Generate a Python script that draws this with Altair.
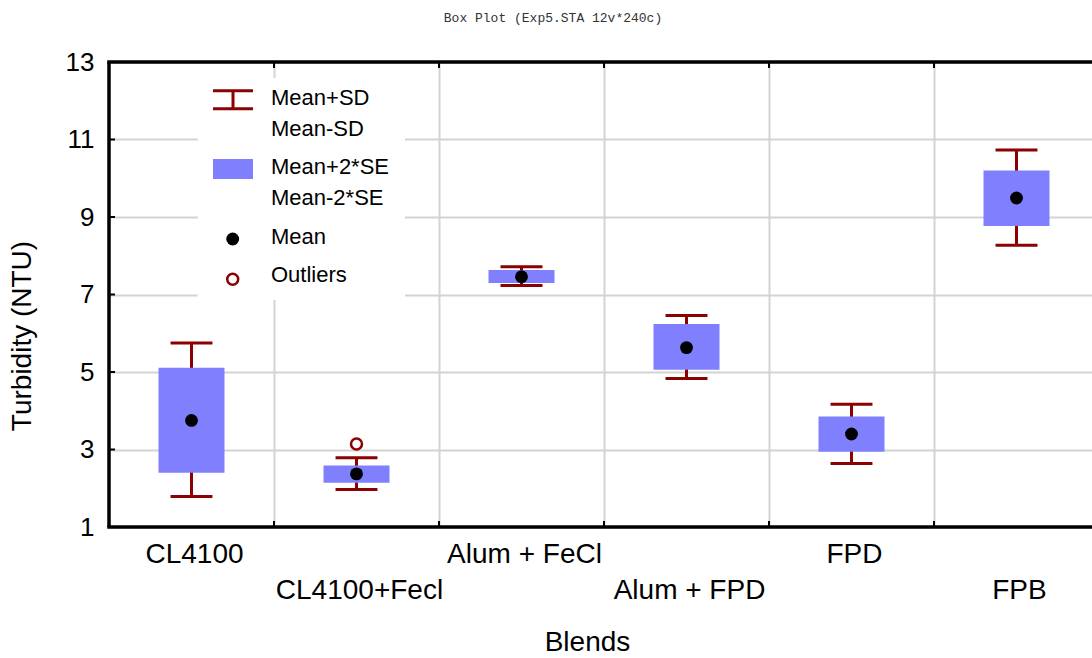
import altair as alt
import pandas as pd

# Turbidity by blend: mean, mean ± SD (whiskers), mean ± 2*SE (boxes)
blends = ["CL4100", "CL4100+Fecl", "Alum + FeCl", "Alum + FPD", "FPD", "FPB"]
mean = [3.75, 2.37, 7.46, 5.63, 3.40, 9.49]
sd_hi = [5.75, 2.79, 7.715, 6.46, 4.17, 10.73]
sd_lo = [1.785, 1.97, 7.23, 4.83, 2.64, 8.27]
se_hi = [5.11, 2.59, 7.63, 6.24, 3.85, 10.20]
se_lo = [2.40, 2.14, 7.30, 5.055, 2.94, 8.77]

outlier_blend = ["CL4100+Fecl"]
outlier_value = [3.14]

y_ticks = [1, 3, 5, 7, 9, 11, 13]
x_bounds = [1, 2, 3, 4, 5]

W, H = 983, 465
RED = "#8B0000"
BLUE = "#8080FF"
GRID = "#D3D3D3"
FONT = "Liberation Sans"

df = pd.DataFrame({
    "blend": blends, "mean": mean,
    "sd_hi": sd_hi, "sd_lo": sd_lo, "se_hi": se_hi, "se_lo": se_lo,
})
df["pos"] = [i + 0.5 for i in range(len(blends))]
df["row"] = [i % 2 for i in range(len(blends))]

out_df = pd.DataFrame({
    "pos": [blends.index(b) + 0.5 for b in outlier_blend],
    "value": outlier_value,
})

xscale = alt.Scale(domain=[0, W / 165.0], nice=False, zero=False)
yscale = alt.Scale(domain=[1, 13], nice=False, zero=False)
xaxis = alt.Axis(values=x_bounds, grid=True, gridColor=GRID, gridWidth=2,
                 labels=False, ticks=False, domain=False, title=None)
yaxis = alt.Axis(values=y_ticks, grid=True, gridColor=GRID, gridWidth=2,
                 domain=False, ticks=False, title=None, labelFont=FONT,
                 labelFontSize=26, labelColor="black", labelPadding=15)


def X(field):
    return alt.X(field, type="quantitative", scale=xscale, axis=xaxis)


def Y(field):
    return alt.Y(field, type="quantitative", scale=yscale, axis=yaxis)


one = alt.Data(values=[{"k": 0}])
base = alt.Chart(df)

stems = base.mark_rule(color=RED, strokeWidth=3).encode(
    x=X("pos"), y=Y("sd_lo"), y2="sd_hi")

boxes = base.transform_calculate(
    bl="datum.pos - 0.2", br="datum.pos + 0.2"
).mark_rect(color=BLUE, opacity=1).encode(
    x=X("bl:Q"), x2="br:Q", y=Y("se_lo"), y2="se_hi")

caps = base.transform_fold(["sd_hi", "sd_lo"], as_=["k", "v"]).transform_calculate(
    cl="datum.pos - 0.127", cr="datum.pos + 0.127"
).mark_rule(color=RED, strokeWidth=3).encode(
    x=X("cl:Q"), x2="cr:Q", y=Y("v:Q"))

means = base.mark_circle(color="black", size=165, opacity=1).encode(
    x=X("pos"), y=Y("mean"))

outliers = alt.Chart(out_df).mark_point(
    filled=False, color=RED, strokeWidth=2.5, size=120, opacity=1
).encode(x=X("pos"), y=Y("value"))

# frame: left, top and bottom edges with inward ticks
frame_left = alt.Chart(one).mark_rule(color="black", strokeWidth=3.5).encode(
    x=alt.value(0), y=alt.value(0), y2=alt.value(H))
frame_top = alt.Chart(one).mark_rule(color="black", strokeWidth=3.5).encode(
    x=alt.value(-1.75), x2=alt.value(W), y=alt.value(0))
frame_bottom = alt.Chart(one).mark_rule(color="black", strokeWidth=3.5).encode(
    x=alt.value(-1.75), x2=alt.value(W), y=alt.value(H))

ytick_df = pd.DataFrame({"v": y_ticks})
xtick_df = pd.DataFrame({"b": x_bounds})
left_ticks = alt.Chart(ytick_df).mark_rule(color="black", strokeWidth=2).encode(
    y=Y("v:Q"), x=alt.value(0), x2=alt.value(6))
bottom_ticks = alt.Chart(xtick_df).mark_rule(color="black", strokeWidth=2).encode(
    x=X("b:Q"), y=alt.value(H - 6), y2=alt.value(H))
top_ticks = alt.Chart(xtick_df).mark_rule(color="black", strokeWidth=2).encode(
    x=X("b:Q"), y=alt.value(0), y2=alt.value(6))

# category labels, staggered over two rows
label_top = base.transform_filter("datum.row == 0").mark_text(
    font=FONT, fontSize=28, color="black", baseline="middle", dx=3
).encode(x=X("pos"), y=alt.value(493), text="blend:N")
label_bottom = base.transform_filter("datum.row == 1").mark_text(
    font=FONT, fontSize=28, color="black", baseline="middle", dx=3
).encode(x=X("pos"), y=alt.value(529), text="blend:N")

x_title = alt.Chart(one).mark_text(
    font=FONT, fontSize=28, color="black", baseline="middle"
).encode(x=alt.value(478.5), y=alt.value(581), text=alt.value("Blends"))
y_title = alt.Chart(one).mark_text(
    font=FONT, fontSize=28, color="black", baseline="middle", angle=270
).encode(x=alt.value(-86), y=alt.value(274), text=alt.value("Turbidity (NTU)"))
top_title = alt.Chart(one).mark_text(
    font="Liberation Mono", fontSize=13, color="#333333", baseline="middle"
).encode(x=alt.value(444), y=alt.value(-44.5),
         text=alt.value("Box Plot (Exp5.STA 12v*240c)"))

# legend panel
leg_bg = alt.Chart(one).mark_rect(color="white", opacity=1).encode(
    x=alt.value(88.7), x2=alt.value(296), y=alt.value(16), y2=alt.value(238))
leg_cap1 = alt.Chart(one).mark_rule(color=RED, strokeWidth=3).encode(
    x=alt.value(104), x2=alt.value(144), y=alt.value(28.7))
leg_cap2 = alt.Chart(one).mark_rule(color=RED, strokeWidth=3).encode(
    x=alt.value(104), x2=alt.value(144), y=alt.value(46.7))
leg_stem = alt.Chart(one).mark_rule(color=RED, strokeWidth=3).encode(
    x=alt.value(124), y=alt.value(28.7), y2=alt.value(46.7))
leg_box = alt.Chart(one).mark_rect(color=BLUE, opacity=1).encode(
    x=alt.value(104), x2=alt.value(144), y=alt.value(97), y2=alt.value(117))
leg_mean = alt.Chart(one).mark_circle(color="black", size=165, opacity=1).encode(
    x=alt.value(123.7), y=alt.value(177))
leg_out = alt.Chart(one).mark_point(
    filled=False, color=RED, strokeWidth=2.5, size=120, opacity=1
).encode(x=alt.value(123.7), y=alt.value(217.3))

legend_texts = []
for txt, ty in [("Mean+SD", 36), ("Mean-SD", 67), ("Mean+2*SE", 105),
                ("Mean-2*SE", 136), ("Mean", 174.7), ("Outliers", 213)]:
    legend_texts.append(
        alt.Chart(one).mark_text(
            font=FONT, fontSize=22, color="black", align="left", baseline="middle"
        ).encode(x=alt.value(162), y=alt.value(ty), text=alt.value(txt))
    )

chart = alt.layer(
    stems, boxes, caps, means, outliers,
    leg_bg, leg_cap1, leg_cap2, leg_stem, leg_box, leg_mean, leg_out,
    *legend_texts,
    left_ticks, bottom_ticks, top_ticks,
    frame_left, frame_top, frame_bottom,
    label_top, label_bottom, x_title, y_title, top_title,
).properties(
    width=W, height=H,
    autosize=alt.AutoSizeParams(type="none"),
    padding={"left": 109, "top": 62, "right": 0, "bottom": 131},
    background="white",
).configure_view(strokeWidth=0)

chart.save("out.html", embed_options={"renderer": "svg", "actions": False})
